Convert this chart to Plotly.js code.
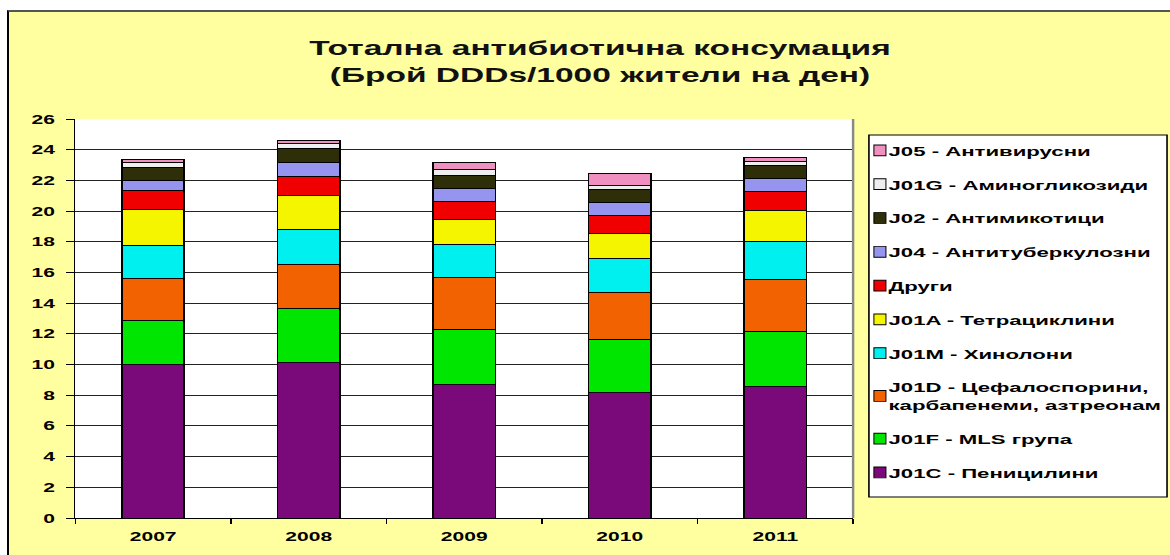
<!DOCTYPE html>
<html>
<head>
<meta charset="utf-8">
<script src="https://cdn.plot.ly/plotly-3.0.1.min.js"></script>
<style>
  html, body { margin: 0; padding: 0; background: #ffffff; width: 1170px; height: 555px; overflow: hidden; }
  #frame { position: absolute; left: 7px; top: 10px; width: 1163px; height: 545px; border-left: 2px solid #000; border-top: 2px solid #555; box-sizing: border-box; background: #ffffa0; overflow: hidden; }
  #chart { position: absolute; left: 0; top: 0; width: 730px; height: 543px; transform: scaleX(1.6192); transform-origin: 0 0; }
  #chart .legend .legendtext { transform: translateX(-1.8px); }
  #chart .legend .legendpoints path { transform: translate(32.9px, 0px) scale(0.62, 0.9); }
</style>
</head>
<body>
<div id="frame"><div id="chart"></div></div>
<script>
const years = ['2007', '2008', '2009', '2010', '2011'];

const J01C = [10.00, 10.12, 8.71, 8.15, 8.58];
const J01F = [2.90, 3.50, 3.55, 3.45, 3.57];
const J01D = [2.68, 2.92, 3.43, 3.11, 3.36];
const J01M = [2.17, 2.28, 2.16, 2.17, 2.51];
const J01A = [2.33, 2.21, 1.60, 1.67, 2.04];
const drugi = [1.28, 1.25, 1.15, 1.15, 1.21];
const J04 = [0.64, 0.87, 0.87, 0.86, 0.85];
const J02 = [0.83, 0.93, 0.87, 0.82, 0.83];
const J01G = [0.33, 0.30, 0.39, 0.26, 0.28];
const J05 = [0.22, 0.20, 0.43, 0.81, 0.25];

const seriesNames = [
  'J01C - Пеницилини',
  'J01F - MLS група',
  'J01D - Цефалоспорини,<br>карбапенеми, азтреонам',
  'J01M - Хинолони',
  'J01A - Тетрациклини',
  'Други',
  'J04 - Антитуберкулозни',
  'J02 - Антимикотици',
  'J01G - Аминогликозиди',
  'J05 - Антивирусни'
];
const seriesValues = [J01C, J01F, J01D, J01M, J01A, drugi, J04, J02, J01G, J05];
const seriesColors = ['#7a0a7a', '#00e600', '#f26200', '#00f0f0', '#f5f500', '#f00000', '#9595f0', '#2e2e08', '#eeeeee', '#f090c0'];

const traces = seriesValues.map((vals, i) => ({
  type: 'bar',
  name: '<b>' + seriesNames[i] + '</b>',
  x: years,
  y: vals,
  legendgroup: 'g' + i,
  legendrank: 100 - i,
  marker: { color: seriesColors[i], line: { color: '#000000', width: 1 } },
  hoverinfo: 'name+y'
}));

const FONT = 'Liberation Sans, Arial, sans-serif';

const layout = {
  width: 730,
  height: 543,
  barmode: 'stack',
  bargap: 0.6,
  paper_bgcolor: '#ffffa0',
  plot_bgcolor: '#ffffff',
  font: { family: FONT, color: '#000000', size: 13 },
  margin: { l: 41, r: 0, t: 107, b: 37 },
  title: {
    text: '<b>Тотална антибиотична консумация<br>(Брой DDDs/1000 жители на ден)</b>',
    font: { size: 20.7, color: '#111111', family: FONT },
    x: 0.5, xanchor: 'center', xref: 'container',
    y: 0.92, yanchor: 'top', yref: 'container'
  },
  xaxis: {
    type: 'category',
    domain: [0, 0.6971],
    tickson: 'boundaries',
    ticks: 'outside',
    ticklen: 5,
    tickcolor: '#000',
    showline: true,
    linecolor: '#000',
    linewidth: 1,
    showgrid: false,
    ticklabelstandoff: 6,
    tickfont: { size: 13, family: FONT },
    tickprefix: '<b>', ticksuffix: '</b>'
  },
  yaxis: {
    range: [0, 26],
    dtick: 2,
    ticks: 'outside',
    ticklen: 5,
    tickcolor: '#000',
    showline: true,
    linecolor: '#000',
    linewidth: 1,
    showgrid: true,
    gridcolor: '#222222',
    gridwidth: 1,
    zeroline: false,
    ticklabelstandoff: 4,
    tickfont: { size: 13, family: FONT },
    tickprefix: '<b>', ticksuffix: '</b>'
  },
  legend: {
    x: 0.6734, xanchor: 'left',
    y: 0.96, yanchor: 'top',
    traceorder: 'grouped',
    tracegroupgap: 13,
    itemwidth: 30,
    bgcolor: 'rgba(0,0,0,0)',
    borderwidth: 0,
    font: { size: 13.7, family: FONT }
  },
  shapes: [
    {
      type: 'line', xref: 'x domain', yref: 'y domain', x0: 1, x1: 1, y0: 0, y1: 1,
      line: { color: '#888888', width: 1.5 }
    },
    {
      type: 'rect', xref: 'paper', yref: 'paper', x0: 0.7113, x1: 0.9785, y0: 0.0526, y1: 0.96,
      fillcolor: '#ffffff', line: { color: '#000000', width: 1 }, layer: 'below'
    }
  ],
  showlegend: true
};

Plotly.newPlot('chart', traces, layout, { displayModeBar: false, staticPlot: true });
</script>
</body>
</html>
